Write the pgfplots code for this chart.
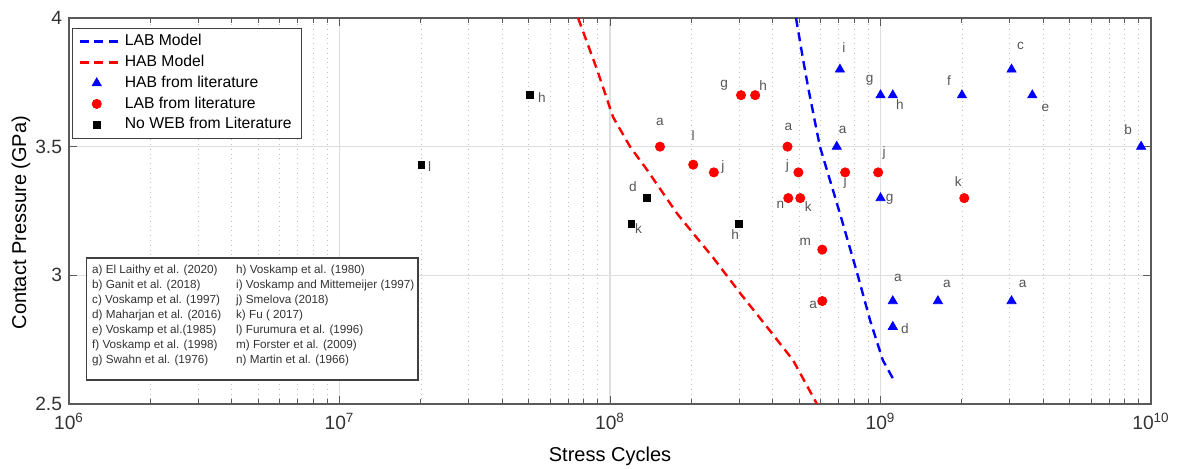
\documentclass[border=0pt]{standalone}
\usepackage{fontspec}
\setmainfont{Liberation Sans}
\usepackage{pgfplots}
\pgfplotsset{compat=1.18}
\definecolor{lblgray}{HTML}{555555}
\definecolor{axgray}{HTML}{5A5A5A}
\definecolor{txtgray}{HTML}{333333}
\pgfplotsset{longline/.style={legend image code/.code={\draw[##1] (0pt,0pt) -- (20pt,0pt);}}}

% point label: x, y, xshift (pt), yshift (pt), text
\newcommand{\lab}[5]{\node[font=\fontsize{6.8}{7}\selectfont, text=lblgray, inner sep=0pt, xshift=#3pt, yshift=#4pt] at (axis cs:#1,#2) {#5};}

\begin{document}
\begin{tikzpicture}
\useasboundingbox (-34.5pt,-32.5pt) rectangle (554pt,202pt);
\begin{axis}[
  scale only axis, width=541pt, height=193pt,
  xmode=log, xmin=1e6, xmax=1e10, ymin=2.5, ymax=4,
  xtick={1e6,1e7,1e8,1e9,1e10},
  xticklabels={10\textsuperscript{6},10\textsuperscript{7},10\textsuperscript{8},10\textsuperscript{9},10\textsuperscript{10}},
  minor xtick={2e6,3e6,4e6,5e6,6e6,7e6,8e6,9e6,
               2e7,3e7,4e7,5e7,6e7,7e7,8e7,9e7,
               2e8,3e8,4e8,5e8,6e8,7e8,8e8,9e8,
               2e9,3e9,4e9,5e9,6e9,7e9,8e9,9e9},
  ytick={2.5,3,3.5,4}, yticklabels={2.5,3,3.5,4},
  xmajorgrids, ymajorgrids, xminorgrids,
  major grid style={draw=black!13, line width=0.6pt},
  minor grid style={draw=black!25, dotted, line width=0.4pt},
  axis line style={draw=axgray, line width=0.6pt},
  tick style={draw=axgray, line width=0.5pt},
  major tick length=4pt, minor tick length=2.5pt,
  tick label style={font=\fontsize{9.6}{11}\selectfont, text=txtgray},
  xticklabel style={yshift=-1pt},
  xlabel={Stress Cycles}, ylabel={Contact Pressure (GPa)},
  label style={font=\fontsize{10.5}{12}\selectfont, text=txtgray},
  every axis x label/.style={at={(axis description cs:0.5,-0.135)}, anchor=center},
  every axis y label/.style={at={(axis description cs:-0.0445,0.47)}, rotate=90, anchor=center},
  legend style={at={(axis description cs:0.0028,0.974)}, anchor=north west,
    draw=black!75, fill=white, font=\fontsize{7.85}{9}\selectfont,
    row sep=-0.8pt, inner xsep=3pt, inner ysep=1pt},
  legend cell align=left,
]
% LAB model
\addplot[blue, line width=1.2pt, dash pattern=on 4.5pt off 2.8pt, longline]
  coordinates {(4.87e8,4.0) (5.17e8,3.84) (5.40e8,3.73) (5.97e8,3.50) (7.08e8,3.24)
               (8.19e8,3.01) (9.15e8,2.825) (1.02e9,2.67) (1.11e9,2.60)};
% HAB model
\addplot[red, line width=1.2pt, dash pattern=on 4.5pt off 2.8pt, longline]
  coordinates {(7.62e7,4.0) (8.95e7,3.80) (1.026e8,3.615) (1.186e8,3.50) (1.37e8,3.41)
               (1.77e8,3.24) (2.03e8,3.163) (2.40e8,3.07) (3.03e8,2.93) (3.80e8,2.80)
               (4.75e8,2.67) (5.82e8,2.50)};
% HAB from literature
\addplot[only marks, mark=triangle*, mark size=2.6pt, mark options={draw=blue, fill=blue}]
  coordinates {(7.08e8,3.8) (6.89e8,3.5) (1.0e9,3.7) (1.11e9,3.7) (2.0e9,3.7) (3.05e9,3.8)
               (3.64e9,3.7) (9.19e9,3.5) (1.0e9,3.3) (1.11e9,2.9) (1.63e9,2.9) (3.05e9,2.9)
               (1.11e9,2.8)};
% LAB from literature
\addplot[only marks, mark=*, mark size=2.3pt, mark options={draw=red, fill=red}]
  coordinates {(1.53e8,3.5) (2.03e8,3.43) (2.42e8,3.40) (3.05e8,3.7) (3.44e8,3.7) (4.53e8,3.5)
               (4.97e8,3.40) (4.56e8,3.30) (5.05e8,3.30) (6.09e8,3.10) (6.09e8,2.90)
               (7.4e8,3.40) (9.8e8,3.40) (2.04e9,3.30)};
% No WEB from literature
\addplot[only marks, mark=square*, mark size=1.65pt, mark options={draw=black, fill=black}]
  coordinates {(2.01e7,3.43) (5.06e7,3.70) (1.37e8,3.30) (1.2e8,3.20) (3.0e8,3.20)};
\legend{LAB Model, HAB Model, HAB from literature, LAB from literature, No WEB from Literature}

% labels, no WEB
\lab{2.01e7}{3.43}{4}{-1}{l}
\lab{5.06e7}{3.70}{6}{-1}{h}
\lab{1.37e8}{3.30}{-7}{5.5}{d}
\lab{1.2e8}{3.20}{3.5}{-2.5}{k}
\lab{3.0e8}{3.20}{-2}{-5.5}{h}
% labels, LAB
\lab{1.53e8}{3.5}{0}{12.5}{a}
\lab{2.03e8}{3.43}{0}{14.5}{l}
\lab{2.42e8}{3.40}{4.5}{2.5}{j}
\lab{3.05e8}{3.7}{-8.5}{5}{g}
\lab{3.44e8}{3.7}{4}{5}{h}
\lab{4.53e8}{3.5}{0.5}{10}{a}
\lab{4.97e8}{3.40}{-5.5}{3}{j}
\lab{4.56e8}{3.30}{-4}{-3.5}{n}
\lab{5.05e8}{3.30}{4}{-4}{k}
\lab{6.09e8}{3.10}{-8.5}{4}{m}
\lab{6.09e8}{2.90}{-4.5}{-2}{a}
\lab{7.4e8}{3.40}{0}{-5}{j}
\lab{9.8e8}{3.40}{3}{9.5}{j}
\lab{2.04e9}{3.30}{-3}{8.5}{k}
% labels, HAB
\lab{7.08e8}{3.8}{2}{11}{i}
\lab{6.89e8}{3.5}{3}{8.5}{a}
\lab{1.0e9}{3.7}{-5.5}{7.5}{g}
\lab{1.11e9}{3.7}{3.5}{-4.5}{h}
\lab{2.0e9}{3.7}{-6.5}{7.5}{f}
\lab{3.05e9}{3.8}{4.5}{12}{c}
\lab{3.64e9}{3.7}{6.5}{-6.5}{e}
\lab{9.19e9}{3.5}{-6.5}{8.5}{b}
\lab{1.0e9}{3.3}{4.5}{-0.5}{g}
\lab{1.11e9}{2.9}{2.5}{11.5}{a}
\lab{1.63e9}{2.9}{4.5}{8.5}{a}
\lab{3.05e9}{2.9}{5.5}{8.5}{a}
\lab{1.11e9}{2.8}{6}{-1}{d}

% reference list
\draw[draw=black!75, fill=white, line width=0.6pt]
  (axis description cs:0.0164,0.0622) rectangle (axis description cs:0.3226,0.378);
\node[anchor=north west, inner sep=0pt, font=\fontsize{5.85}{7.5}\selectfont, text=txtgray,
  xshift=2.5pt, yshift=-2.5pt] at (axis description cs:0.0164,0.378) {%
  \begin{tabular}{@{}p{72pt}@{}l@{}}
  a) El Laithy et al. (2020) & h) Voskamp et al. (1980)\\
  b) Ganit et al. (2018) & i) Voskamp and Mittemeijer (1997)\\
  c) Voskamp et al. (1997) & j) Smelova (2018)\\
  d) Maharjan et al. (2016) & k) Fu ( 2017)\\
  e) Voskamp et al.(1985) & l) Furumura et al. (1996)\\
  f) Voskamp et al. (1998) & m) Forster et al. (2009)\\
  g) Swahn et al. (1976) & n) Martin et al. (1966)
  \end{tabular}};
\end{axis}
\end{tikzpicture}
\end{document}
